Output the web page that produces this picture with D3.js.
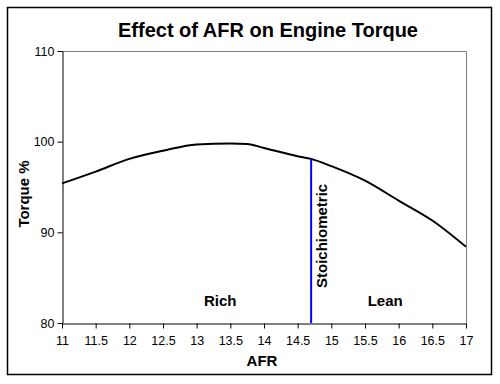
<!DOCTYPE html>
<html>
<head>
<meta charset="utf-8">
<script src="https://cdn.jsdelivr.net/npm/d3@7"></script>
<style>
  body { margin: 0; background: #fff; }
  text { font-family: Arial, "Liberation Sans", sans-serif; }
  .bold-text { font-size: 15px; font-weight: bold; fill: #000; }
</style>
</head>
<body>
<svg id="chart" width="500" height="384"></svg>
<script>
// AFR vs torque
const afr = [11, 11.5, 12, 12.5, 13, 13.5, 13.75, 14, 14.5, 14.7, 15, 15.5, 16, 16.5, 17];
const torque = [95.4, 96.7, 98.1, 99.0, 99.7, 99.8, 99.75, 99.3, 98.4, 98.1, 97.3, 95.7, 93.5, 91.3, 88.4];
const xTicks = [11, 11.5, 12, 12.5, 13, 13.5, 14, 14.5, 15, 15.5, 16, 16.5, 17];
const yTicks = [80, 90, 100, 110];
const stoich = 14.7;
const regionNames = ["Rich", "Lean"];
const regionAfr = [13.35, 15.8];

const svg = d3.select("#chart");
const plot = { left: 62, right: 466, top: 51, bottom: 323 };

var x = d3.scaleLinear().domain([11, 17]).range([plot.left, plot.right]);
var y = d3.scaleLinear().domain([80, 110]).range([plot.bottom, plot.top]);

// outer frame
svg.append("rect")
    .attr("x", 7.5).attr("y", 7.5)
    .attr("width", 484).attr("height", 367)
    .attr("fill", "white")
    .attr("stroke", "black")
    .attr("stroke-width", 1.5);

// title
svg.append("text")
    .text("Effect of AFR on Engine Torque")
    .attr("x", 268).attr("y", 37)
    .attr("text-anchor", "middle")
    .style("font-size", "20px")
    .style("font-weight", "bold");

// gray plot border (top and right)
svg.append("path")
    .attr("d", `M${plot.left},${plot.top + 0.5}H${plot.right + 0.5}V${plot.bottom}`)
    .attr("fill", "none")
    .attr("stroke", "#808080")
    .attr("stroke-width", 1);

// axes
var xAxis = svg.append("g")
    .attr("transform", `translate(0,${plot.bottom + 0.5})`)
    .call(d3.axisBottom(x).tickValues(xTicks).tickSize(5).tickSizeOuter(0).tickFormat(d3.format("")));
var yAxis = svg.append("g")
    .attr("transform", `translate(${plot.left + 0.5},0)`)
    .call(d3.axisLeft(y).tickValues(yTicks).tickSize(5).tickSizeOuter(0));

[xAxis, yAxis].forEach(function(g) {
    g.attr("font-family", null).attr("font-size", null);
    g.select(".domain").attr("stroke", "black");
    g.selectAll(".tick line").attr("stroke", "black");
    g.selectAll(".tick text")
        .style("font-family", "Arial, 'Liberation Sans', sans-serif")
        .style("font-size", "12.5px")
        .attr("fill", "black");
});
xAxis.selectAll(".tick text").attr("y", 13);
yAxis.selectAll(".tick text").attr("x", -8);

// axis titles
svg.append("text")
    .text("AFR")
    .attr("class", "bold-text")
    .attr("x", 262).attr("y", 366)
    .attr("text-anchor", "middle");

svg.append("text")
    .text("Torque %")
    .attr("class", "bold-text")
    .attr("transform", "translate(29,194) rotate(-90)")
    .attr("text-anchor", "middle");

// torque curve
var data = afr.map(function(d, i) { return { afr: d, torque: torque[i] }; });
var line = d3.line()
    .x(function(d) { return x(d.afr); })
    .y(function(d) { return y(d.torque); })
    .curve(d3.curveMonotoneX);

svg.append("path")
    .datum(data)
    .attr("d", line)
    .attr("fill", "none")
    .attr("stroke", "black")
    .attr("stroke-width", 2);

// stoichiometric marker
var stoichTorque = torque[afr.indexOf(stoich)];
svg.append("line")
    .attr("x1", x(stoich)).attr("x2", x(stoich))
    .attr("y1", y(stoichTorque)).attr("y2", plot.bottom)
    .attr("stroke", "#0000ff")
    .attr("stroke-width", 2);

svg.append("text")
    .text("Stoichiometric")
    .attr("class", "bold-text")
    .attr("transform", `translate(${x(stoich) + 16},288) rotate(-90)`)
    .attr("text-anchor", "start");

// region labels
svg.selectAll(".region")
    .data(regionNames)
    .enter().append("text")
    .attr("class", "bold-text region")
    .text(function(d) { return d; })
    .attr("x", function(d, i) { return x(regionAfr[i]); })
    .attr("y", 306)
    .attr("text-anchor", "middle");
</script>
</body>
</html>
